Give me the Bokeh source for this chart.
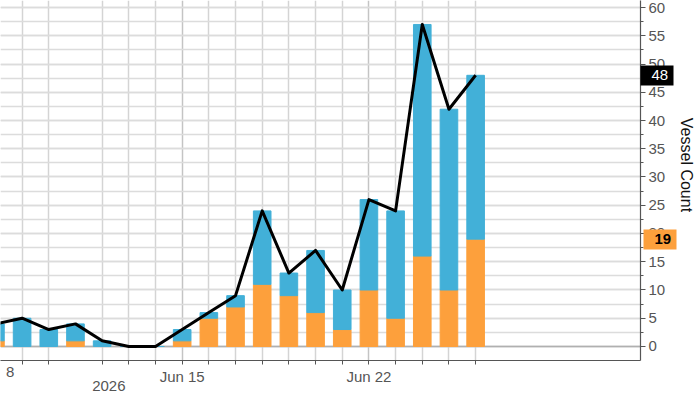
from bokeh.plotting import figure
from bokeh.models import (Range1d, FixedTicker, SingleIntervalTicker, LinearAxis,
                          ColumnDataSource, Span)
from bokeh.embed import file_html
from bokeh.resources import INLINE

# ---- data (day of June 2026) ----
days = [8, 9, 10, 11, 12, 13, 14, 15, 16, 17, 18, 19, 20, 21, 22, 23, 24, 25, 26]
total = [4, 5, 3, 4, 1, 0, 0, 3, 6, 9, 24, 13, 17, 10, 26, 24, 57, 42, 48]
orange_part = [1, 0, 0, 1, 0, 0, 0, 1, 5, 7, 11, 9, 6, 3, 10, 5, 16, 10, 19]
blue_part = [t - o for t, o in zip(total, orange_part)]

major_days = [15, 22]
major_labels = {15: "Jun 15", 22: "Jun 22"}
minor_days = [9, 10, 12, 13, 14, 16, 17, 18, 19, 20, 21, 23, 24, 25, 26]
first_day_pos = 8.55          # right end of the clipped "Jun 8" label
first_day_label = "8"
year_day = 12.25
year_label = "2026"
y_label = "Vessel Count"

BLUE = "#42b0d8"
ORANGE = "#fda03c"
FONT = "Liberation Sans"
TICK_COLOR = "#555555"

src = ColumnDataSource(dict(day=days, orange=orange_part, blue=blue_part, total=total))

p = figure(width=700, height=394, output_backend="svg", toolbar_location=None,
           x_range=Range1d(8.19, 32.18), y_range=Range1d(-2.48, 61.24),
           y_axis_location="right",
           min_border_left=0, min_border_top=0, min_border_right=60, min_border_bottom=34)
p.outline_line_color = None
p.background_fill_color = "white"
p.border_fill_color = "white"

# main y axis (right)
ya = p.yaxis[0]
ya.ticker = SingleIntervalTicker(interval=5, num_minor_ticks=2)
ya.major_label_text_font = FONT
ya.major_label_text_font_size = "15px"
ya.major_label_text_color = TICK_COLOR
ya.major_label_standoff = 3
ya.major_tick_in = 0
ya.major_tick_out = 5
ya.minor_tick_in = 0
ya.minor_tick_out = 3
ya.axis_line_color = TICK_COLOR
ya.major_tick_line_color = TICK_COLOR
ya.minor_tick_line_color = TICK_COLOR
ya.axis_line_width = 1.2

# last-value tags, drawn as extra right axes (thick tick = tag box)
def tag_axis(v, fill, txt_color, bold, tin, tout, standoff):
    ax = LinearAxis(ticker=FixedTicker(ticks=[v], minor_ticks=[]),
                    major_label_overrides={v: str(v)},
                    axis_line_color=None, minor_tick_line_color=None,
                    major_tick_line_color=fill, major_tick_line_width=20,
                    major_tick_in=tin, major_tick_out=tout,
                    major_label_standoff=standoff,
                    major_label_text_font=FONT, major_label_text_font_size="15px",
                    major_label_text_font_style="bold" if bold else "normal",
                    major_label_text_color=txt_color)
    p.add_layout(ax, "right")
    return ax

t1 = tag_axis(total[-1], "black", "white", False, 28, 5, -22)
t2 = tag_axis(orange_part[-1], ORANGE, "black", True, 28, 5, -22)
t2.axis_label = y_label + "\u00a0" * 7
t2.axis_label_text_font = FONT
t2.axis_label_text_font_size = "16px"
t2.axis_label_text_font_style = "normal"
t2.axis_label_text_color = "#111111"
t2.axis_label_standoff = 4

# x axis (below)
xa = p.xaxis[0]
xa.ticker = FixedTicker(ticks=major_days, minor_ticks=minor_days)
xa.major_label_overrides = major_labels
xa.major_label_text_font = FONT
xa.major_label_text_font_size = "15px"
xa.major_label_text_color = TICK_COLOR
xa.major_label_standoff = 3
xa.major_tick_in = 0
xa.major_tick_out = 4
xa.minor_tick_in = 0
xa.minor_tick_out = 4
xa.axis_line_color = TICK_COLOR
xa.major_tick_line_color = TICK_COLOR
xa.minor_tick_line_color = TICK_COLOR
xa.axis_line_width = 1.2

# single-label bottom axes: year and the clipped first date
def label_axis(pos, text, standoff, align="center"):
    ax = LinearAxis(ticker=FixedTicker(ticks=[pos], minor_ticks=[]),
                    major_label_overrides={pos: text},
                    axis_line_color=None, major_tick_line_color=None, minor_tick_line_color=None,
                    major_tick_in=0, major_tick_out=0, major_label_standoff=standoff,
                    major_label_text_font=FONT, major_label_text_font_size="15px",
                    major_label_text_color=TICK_COLOR, major_label_text_align=align)
    p.add_layout(ax, "below")
    return ax

label_axis(year_day, year_label, -7)
label_axis(first_day_pos, first_day_label, -27, "right")

# grids
p.ygrid.grid_line_color = "#dcdcdc"
p.ygrid.grid_line_width = 1.5
p.ygrid.minor_grid_line_color = "#dcdcdc"
p.ygrid.minor_grid_line_width = 1.5
p.xgrid.grid_line_color = "#c4c4c4"
p.xgrid.grid_line_width = 1.5
p.xgrid.minor_grid_line_color = "#d4d4d4"
p.xgrid.minor_grid_line_width = 1.5

p.add_layout(Span(location=0, dimension="width", line_color="#b0b0b0", line_width=1.5, level="underlay"))

# stacked bars
p.vbar_stack(["orange", "blue"], x="day", width=0.66, color=[ORANGE, BLUE], source=src)

# total line
p.line("day", "total", source=src, line_color="black", line_width=3, line_join="round")

open("out.html", "w").write(file_html(p, INLINE))
